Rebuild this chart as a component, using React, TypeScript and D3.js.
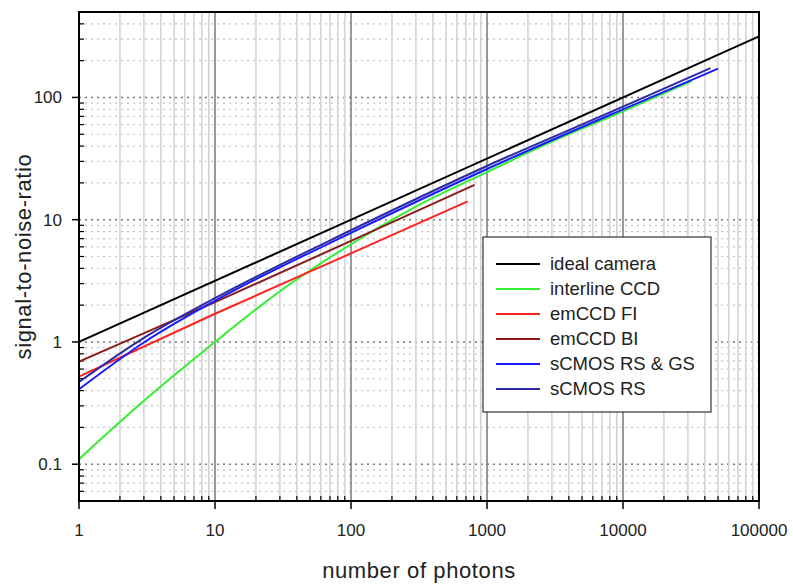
import React, { useEffect, useRef } from 'react';
import * as d3 from 'd3';

// values (photons, SNR)
const idealCamera = [[1, 1], [100000, 316]];
const interlineCCD = [[1, 0.11], [3, 0.33], [10, 1.0], [30, 2.6], [100, 6.3], [300, 12.8], [1000, 24.5], [3000, 43.5], [10000, 77], [32000, 136]];
const emCCDFI = [[1, 0.52], [10, 1.7], [100, 5.3], [720, 14.1]];
const emCCDBI = [[1, 0.69], [10, 2.12], [100, 6.7], [810, 19.3]];
const sCMOSRSGS = [[1, 0.41], [3, 0.99], [10, 2.17], [100, 7.8], [1000, 26], [10000, 80], [50000, 172]];
const sCMOSRS = [[1, 0.47], [3, 1.08], [10, 2.28], [100, 8.2], [1000, 27.5], [10000, 84], [44000, 174]];

const seriesNames = ['ideal camera', 'interline CCD', 'emCCD FI', 'emCCD BI', 'sCMOS RS & GS', 'sCMOS RS'];
const seriesData = [idealCamera, interlineCCD, emCCDFI, emCCDBI, sCMOSRSGS, sCMOSRS];
const seriesColors = ['#000000', '#33ee33', '#ff2222', '#8b1c1c', '#1a1aff', '#2b2b9e'];

const xTicks = [1, 10, 100, 1000, 10000, 100000];
const xTickLabels = ['1', '10', '100', '1000', '10000', '100000'];
const yTicks = [0.1, 1, 10, 100];
const yTickLabels = ['0.1', '1', '10', '100'];

const App = () => {
  const svgRef = useRef(null);

  useEffect(() => {
    const width = 793;
    const height = 585;
    const margin = { top: 12, right: 34, bottom: 84, left: 79 };
    const w = width - margin.left - margin.right;
    const h = height - margin.top - margin.bottom;
    const font = 'Liberation Sans, Arial, Helvetica, sans-serif';

    const svg = d3.select(svgRef.current);
    svg.selectAll('*').remove();
    svg.attr('width', width).attr('height', height);

    const g = svg.append('g').attr('transform', `translate(${margin.left},${margin.top})`);

    const x = d3.scaleLog().domain([1, 100000]).range([0, w]);
    const y = d3.scaleLog().domain([0.05, 500]).range([h, 0]);

    const xMinor = [];
    for (let d = 1; d < 100000; d *= 10) {
      for (let k = 2; k <= 9; k++) xMinor.push(d * k);
    }
    const yMinor = [];
    for (let d = 0.01; d < 1000; d *= 10) {
      for (let k = 2; k <= 9; k++) {
        const v = +(d * k).toPrecision(3);
        if (v >= 0.05 && v <= 500) yMinor.push(v);
      }
    }

    // grid: horizontal dotted
    g.selectAll('.ygm').data(yMinor).enter().append('line')
      .attr('x1', 0).attr('x2', w)
      .attr('y1', d => y(d)).attr('y2', d => y(d))
      .attr('stroke', '#c4c4c4').attr('stroke-width', 1.2)
      .attr('stroke-dasharray', '2,4');
    g.selectAll('.ygM').data(yTicks).enter().append('line')
      .attr('x1', 0).attr('x2', w)
      .attr('y1', d => y(d)).attr('y2', d => y(d))
      .attr('stroke', '#777').attr('stroke-width', 1.5)
      .attr('stroke-dasharray', '2,4');

    // grid: vertical solid
    g.selectAll('.xgm').data(xMinor).enter().append('line')
      .attr('x1', d => x(d)).attr('x2', d => x(d))
      .attr('y1', 0).attr('y2', h)
      .attr('stroke', '#d2d2d2').attr('stroke-width', 1.5);
    g.selectAll('.xgM').data(xTicks).enter().append('line')
      .attr('x1', d => x(d)).attr('x2', d => x(d))
      .attr('y1', 0).attr('y2', h)
      .attr('stroke', '#777').attr('stroke-width', 1.5);

    // minor ticks (inward)
    g.selectAll('.xtm').data(xMinor).enter().append('line')
      .attr('x1', d => x(d)).attr('x2', d => x(d))
      .attr('y1', h).attr('y2', h - 5)
      .attr('stroke', '#000').attr('stroke-width', 1.2);
    g.selectAll('.ytm').data(yMinor).enter().append('line')
      .attr('x1', 0).attr('x2', 5)
      .attr('y1', d => y(d)).attr('y2', d => y(d))
      .attr('stroke', '#000').attr('stroke-width', 1.2);

    // major ticks (outward)
    g.selectAll('.xtM').data(xTicks).enter().append('line')
      .attr('x1', d => x(d)).attr('x2', d => x(d))
      .attr('y1', h).attr('y2', h + 8)
      .attr('stroke', '#000').attr('stroke-width', 1.5);
    g.selectAll('.ytM').data(yTicks).enter().append('line')
      .attr('x1', -7).attr('x2', 0)
      .attr('y1', d => y(d)).attr('y2', d => y(d))
      .attr('stroke', '#000').attr('stroke-width', 1.5);

    // tick labels
    g.selectAll('.xl').data(xTicks).enter().append('text')
      .attr('x', d => x(d)).attr('y', h + 35)
      .attr('text-anchor', 'middle')
      .style('font-family', font).style('font-size', '17px').style('fill', '#222')
      .text((d, i) => xTickLabels[i]);
    g.selectAll('.yl').data(yTicks).enter().append('text')
      .attr('x', -17).attr('y', d => y(d) + 6)
      .attr('text-anchor', 'end')
      .style('font-family', font).style('font-size', '17px').style('fill', '#222')
      .text((d, i) => yTickLabels[i]);

    // series
    const line = d3.line()
      .x(d => x(d[0]))
      .y(d => y(d[1]))
      .curve(d3.curveMonotoneX);

    seriesData.forEach((data, i) => {
      g.append('path')
        .datum(data)
        .attr('fill', 'none')
        .attr('stroke', seriesColors[i])
        .attr('stroke-width', 2)
        .attr('d', line);
    });

    // frame
    g.append('rect')
      .attr('x', 0).attr('y', 0).attr('width', w).attr('height', h)
      .attr('fill', 'none').attr('stroke', '#000').attr('stroke-width', 2);

    // legend
    const lg = svg.append('g').attr('transform', 'translate(483,237)');
    lg.append('rect')
      .attr('width', 228).attr('height', 175)
      .attr('fill', '#fff').attr('stroke', '#333').attr('stroke-width', 1.2);
    seriesNames.forEach((name, i) => {
      const ly = 27 + i * 25;
      lg.append('line')
        .attr('x1', 13).attr('x2', 57)
        .attr('y1', ly).attr('y2', ly)
        .attr('stroke', seriesColors[i]).attr('stroke-width', 2);
      lg.append('text')
        .attr('x', 67).attr('y', ly + 6)
        .style('font-family', font).style('font-size', '18.5px').style('fill', '#222')
        .text(name);
    });

    // axis titles
    svg.append('text')
      .attr('x', margin.left + w / 2).attr('y', 578)
      .attr('text-anchor', 'middle')
      .style('font-family', font).style('font-size', '22px').style('letter-spacing', '0.6px')
      .style('fill', '#222')
      .text('number of photons');
    svg.append('text')
      .attr('transform', `translate(31,${margin.top + h / 2}) rotate(-90)`)
      .attr('text-anchor', 'middle')
      .style('font-family', font).style('font-size', '22px').style('letter-spacing', '0.6px')
      .style('fill', '#222')
      .text('signal-to-noise-ratio');
  }, []);

  return (
    <div style={{ position: 'absolute', left: 0, top: 0, background: '#fff' }}>
      <svg ref={svgRef} style={{ display: 'block' }}></svg>
    </div>
  );
};

export default App;
